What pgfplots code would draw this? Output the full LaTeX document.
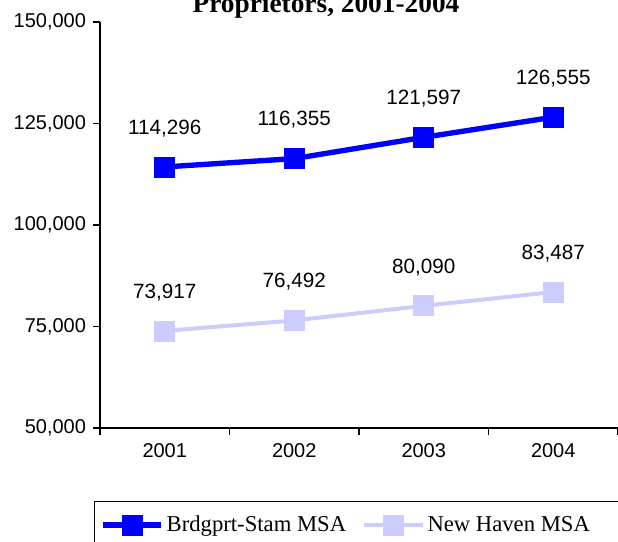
\documentclass[border=0pt]{standalone}
\usepackage{pgfplots}
\pgfplotsset{compat=1.18}
\usepackage{fontspec}
\setmainfont{Liberation Sans}
\newfontfamily\seriffont{Liberation Serif}
\definecolor{bblue}{HTML}{0000FF}
\definecolor{lblue}{HTML}{CCCCFF}
\begin{document}
\begin{tikzpicture}
\begin{axis}[
  at={(0,0)}, anchor=south west, scale only axis,
  width=388.5pt, height=304.5pt,
  xmin=0.5, xmax=4.5, ymin=50000, ymax=150000,
  axis x line*=bottom, axis y line*=left,
  axis line style={line width=1.1pt, black, -},
  xtick={1,2,3,4}, xticklabels={2001,2002,2003,2004},
  minor xtick={0.5,1.5,2.5,3.5,4.5},
  ytick={50000,75000,100000,125000,150000},
  yticklabels={{50,000},{75,000},{100,000},{125,000},{150,000}},
  scaled y ticks=false,
  major x tick style={draw=none},
  tick style={line width=1.1pt, black},
  tick align=outside,
  major tick length=5pt, minor tick length=5pt,
  tick label style={font=\fontsize{15}{18}\selectfont},
  xticklabel style={yshift=-3pt},
  yticklabel style={xshift=-2pt},
  clip=false,
  nodes near coords,
  nodes near coords style={anchor=center, yshift=29pt, font=\fontsize{15.5}{18}\selectfont, text=black},
  point meta=explicit symbolic,
  legend style={at={(axis description cs:-0.0116,-0.179)}, anchor=north west,
    draw=black, line width=1.1pt, font=\seriffont\fontsize{17}{20}\selectfont,
    inner xsep=4pt, inner ysep=9pt, legend columns=2,
    /tikz/every even column/.append style={column sep=10pt}},
  legend cell align=left,
  legend image code/.code={\draw[mark repeat=2,mark phase=2,#1] plot coordinates {(0pt,0pt) (22pt,0pt) (44pt,0pt)};},
]
\addplot[bblue, line width=4pt, mark=square*, mark size=7.5pt, mark options={solid, line width=0.5pt, fill=bblue}]
  coordinates {(1,114296)[{114,296}] (2,116355)[{116,355}] (3,121597)[{121,597}] (4,126555)[{126,555}]};
\addlegendentry{Brdgprt-Stam MSA}
\addplot[lblue, line width=3pt, mark=square*, mark size=7.5pt, mark options={solid, line width=0.5pt, fill=lblue}]
  coordinates {(1,73917)[{73,917}] (2,76492)[{76,492}] (3,80090)[{80,090}] (4,83487)[{83,487}]};
\addlegendentry{\makebox[170pt][l]{New Haven MSA}}
\end{axis}
\node[font=\seriffont\bfseries\fontsize{20.5}{24}\selectfont, anchor=base] at (169.5pt,311.25pt) {Proprietors, 2001-2004};
\pgfresetboundingbox
\path (-75pt,-85.5pt) rectangle (388.5pt,321pt);
\end{tikzpicture}
\end{document}
